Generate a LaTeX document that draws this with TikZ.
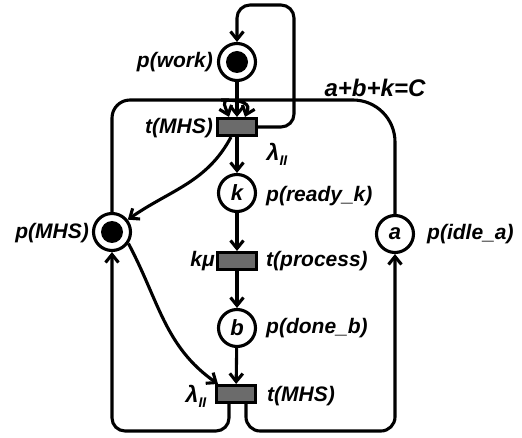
\documentclass[tikz,border=0pt]{standalone}
\usepackage{fontspec}
\setmainfont{Liberation Sans}
\usetikzlibrary{arrows.meta}
\newcommand\lamII{{\fontsize{23}{23}\selectfont λ}\raisebox{-5pt}{\fontsize{14}{14}\selectfont II}}
\tikzset{
  lbl/.style={inner sep=0pt, font=\fontsize{21}{22}\selectfont\bfseries\itshape},
  place/.style={circle, draw, line width=3.1pt, minimum size=37pt, inner sep=0pt, font=\fontsize{22}{22}\selectfont\bfseries\itshape},
  trans/.style={rectangle, draw, line width=3.1pt, fill=black!58, minimum width=39pt, minimum height=17pt, inner sep=0pt},
  arc/.style={line width=3.1pt, -{Straight Barb[length=8pt,width=13pt]}},
}
\begin{document}
\begin{tikzpicture}[x=1pt,y=1pt]
\useasboundingbox (0,0) rectangle (522,-438);
% places and transitions
\node[place] (pw) at (237,-62) {};
\fill (pw) circle (11pt);
\node[trans] (tr1) at (237,-127) {};
\node[place] (k) at (237,-193) {k};
\node[trans] (pr) at (237,-261) {};
\node[place] (b) at (237,-328) {b};
\node[trans] (tr2) at (236,-394) {};
\node[place] (pm) at (112,-232) {};
\fill (pm) circle (11pt);
\node[place] (pa) at (395,-234) {a};
% labels
\node[lbl, anchor=east] (lw) at (213,-62) {p(work)};
\node[lbl, anchor=east] (lt1) at (213,-128) {t(MHS)};
\node[lbl] (lam1) at (277,-154) {\lamII};
\node[lbl, anchor=west] (lk) at (266,-196) {p(ready\_k)};
\node[lbl, anchor=east] (lkmu) at (215,-261) {kμ};
\node[lbl, anchor=west] (lpr) at (266,-261) {t(process)};
\node[lbl, anchor=west] (lb) at (266,-328) {p(done\_b)};
\node[lbl, anchor=west] (lt2) at (267,-396) {t(MHS)};
\node[lbl] (lam2) at (196,-396) {\lamII};
\node[lbl, anchor=east] (lm) at (89,-233) {p(MHS)};
\node[lbl, anchor=west] (la) at (427,-234) {p(idle\_a)};
\node[lbl, font=\fontsize{24}{26}\selectfont\bfseries\itshape] (lc) at (375,-88) {a+b+k=C};
% arcs
\draw[arc] (pw) -- (tr1);
\draw[arc] (tr1) -- (k);
\draw[arc] (k) -- (pr);
\draw[arc] (pr) -- (b);
\draw[arc] (b) -- (tr2);
\draw[arc] (pm.north) [rounded corners=18pt] |- (211,-100) [sharp corners] to[out=0,in=110] ([xshift=-8pt]tr1.north);
\draw[arc] (pa.north) [rounded corners=42pt] |- (263,-100) [sharp corners] to[out=180,in=70] ([xshift=8pt]tr1.north);
\draw[arc, rounded corners=13pt] (tr1.east) -- (294,-127) -- (294,-5) -- (237,-5) -- (pw.north);
\draw[arc] ([xshift=-6pt]tr1.south) to[out=-118,in=35] (pm.38);
\draw[arc] (pm.-35) to[out=-62,in=145] ([xshift=-18pt]tr2.north);
\draw[arc, rounded corners=13pt] ([xshift=-7pt]tr2.south) |- (112,-431) -- (pm.south);
\draw[arc, rounded corners=14pt] ([xshift=10pt]tr2.south) |- (395,-431) -- (pa.south);
\end{tikzpicture}
\end{document}
